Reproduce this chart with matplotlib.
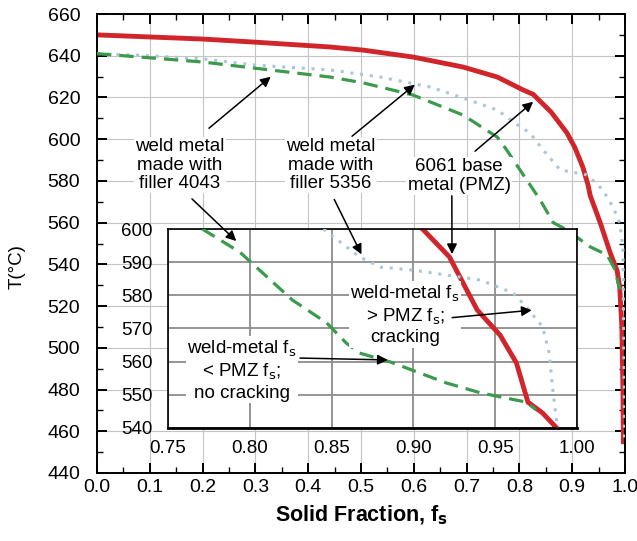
import matplotlib
matplotlib.use("Agg")
import matplotlib.pyplot as plt
import numpy as np

plt.rcParams['font.family'] = ['Liberation Sans', 'DejaVu Sans']

# main plot curves (solid fraction vs temperature)
pmz_fs = [0.0, 0.1, 0.2, 0.3, 0.441, 0.504, 0.598, 0.693, 0.758, 0.807, 0.826, 0.86,
          0.89, 0.905, 0.92, 0.93, 0.934, 0.953, 0.972, 0.985, 0.99, 0.994, 0.996, 0.997]
pmz_T = [650, 649, 648, 646.5, 644.2, 642.7, 639.4, 634.6, 629.8, 623.6, 621.5, 613,
         603, 596, 586.7, 578, 573, 560, 545.5, 537, 529, 510, 480, 455]

f4043_fs = [0.0, 0.1, 0.2, 0.3, 0.441, 0.504, 0.598, 0.693, 0.758, 0.776, 0.801, 0.839,
            0.864, 0.89, 0.934, 0.966, 0.98, 0.99]
f4043_T = [641, 639, 637, 634, 629.8, 627, 621.2, 611.6, 601, 594.8, 585.3, 571,
           560, 556.5, 548.4, 544.5, 538, 528]

f5356_fs = [0.0, 0.1, 0.2, 0.3, 0.441, 0.536, 0.631, 0.693, 0.758, 0.801, 0.82, 0.845,
            0.877, 0.928, 0.958, 0.977, 0.99, 0.996, 0.997, 0.998, 0.999]
f5356_T = [641, 640, 638.5, 635.5, 633.2, 629.8, 625, 619.8, 614, 606, 603, 594.8,
           585.3, 582.9, 575.7, 567.5, 560, 548, 520, 490, 456]

# inset curves
in_pmz_fs = [0.905, 0.922, 0.939, 0.953, 0.963, 0.970, 0.979, 0.987]
in_pmz_T = [600.3, 591.6, 575.6, 568, 559.6, 547.8, 544.5, 540.3]

in_4043_fs = [0.771, 0.794, 0.826, 0.847, 0.859, 0.867, 0.886, 0.92, 0.941, 0.969, 0.975]
in_4043_T = [600, 593, 578.6, 571.7, 565.6, 562.6, 559.9, 553.6, 550.6, 547.8, 545.5]

in_5356_fs = [0.845, 0.867, 0.88, 0.9, 0.941, 0.961, 0.969, 0.979, 0.983, 0.985, 0.988]
in_5356_T = [600, 591.6, 588.5, 587.6, 584.6, 580.7, 576.5, 570.5, 562.6, 552.4, 540]

red = '#d0262b'
green = '#3b9a4c'
blue = '#a9c6da'

fig = plt.figure(figsize=(6.37, 5.41), dpi=100)
ax = fig.add_axes([0.1523, 0.1257, 0.8289, 0.8484])

ax.plot(f5356_fs, f5356_T, color=blue, lw=2.2, dashes=(1, 2.2), zorder=3)
ax.plot(f4043_fs, f4043_T, color=green, lw=2.3, dashes=(4.5, 2.5), zorder=3)
ax.plot(pmz_fs, pmz_T, color=red, lw=3.5, zorder=2)

ax.set_xlim(0, 1.0)
ax.set_ylim(440, 660)
ax.set_xticks(np.arange(0, 1.01, 0.1))
ax.set_xticklabels(['%.1f' % v for v in np.arange(0, 1.01, 0.1)])
ax.set_xticks(np.arange(0, 1.01, 0.05), minor=True)
ax.set_yticks(np.arange(440, 661, 20))
ax.set_yticks(np.arange(440, 661, 10), minor=True)
ax.tick_params(which='both', direction='in', top=True, right=True, labelsize=14)
ax.tick_params(which='major', length=7, width=1.4)
ax.tick_params(which='minor', length=4, width=1.0)
ax.tick_params(axis='y', which='major', pad=12)
ax.tick_params(axis='x', which='major', pad=4)
ax.grid(True, which='major', color='#c4c4c4', lw=0.8)
for s in ax.spines.values():
    s.set_linewidth(1.4)

ax.set_xlabel('Solid Fraction, f$_\\mathbf{s}$', fontsize=15.5, fontweight='bold', labelpad=6)
ax.set_ylabel('T(°C)', fontsize=13.5)
ax.yaxis.set_label_coords(-0.135, 0.45)

box = dict(facecolor='white', edgecolor='none', pad=1)
arr = dict(arrowstyle='-|>', color='black', lw=1.1, mutation_scale=15)

ax.text(0.157, 587.6, 'weld metal\nmade with\nfiller 4043', ha='center', va='center',
        fontsize=13.5, linespacing=1.1, bbox=box, zorder=5)
ax.text(0.443, 587.6, 'weld metal\nmade with\nfiller 5356', ha='center', va='center',
        fontsize=13.5, linespacing=1.1, bbox=box, zorder=5)
ax.text(0.686, 582.4, '6061 base\nmetal (PMZ)', ha='center', va='center',
        fontsize=13.5, linespacing=1.1, bbox=box, zorder=5)

ax.annotate('', xy=(0.333, 630.8), xytext=(0.208, 604.4), arrowprops=arr)
ax.annotate('', xy=(0.606, 627), xytext=(0.479, 600.6), arrowprops=arr)
ax.annotate('', xy=(0.83, 618.8), xytext=(0.712, 593.4), arrowprops=arr)

# inset
ins = fig.add_axes([0.2637, 0.2089, 0.6421, 0.3678])
ins.set_facecolor('white')
ins.plot(in_5356_fs, in_5356_T, color=blue, lw=2.2, dashes=(1, 2.2), zorder=3)
ins.plot(in_4043_fs, in_4043_T, color=green, lw=2.3, dashes=(4.5, 2.5), zorder=3)
ins.plot(in_pmz_fs, in_pmz_T, color=red, lw=3.5, zorder=2)
ins.set_xlim(0.75, 1.0)
ins.set_ylim(540, 600)
ins.set_xticks(np.arange(0.75, 1.001, 0.05))
ins.set_xticklabels(['%.2f' % v for v in np.arange(0.75, 1.001, 0.05)])
ins.set_yticks(np.arange(540, 601, 10))
ins.tick_params(length=0, labelsize=13.5)
ins.tick_params(axis='y', pad=11)
ins.tick_params(axis='x', pad=9)
ins.grid(True, color='#8c8c8c', lw=1.3)
for s in ins.spines.values():
    s.set_linewidth(1.2)
ins.spines['bottom'].set_linewidth(2)

ins.text(0.895, 574.1, 'weld-metal f$_\\mathrm{s}$\n> PMZ f$_\\mathrm{s}$;\ncracking', ha='center',
         va='center', fontsize=13.5, linespacing=1.2, bbox=box, zorder=5)
ins.text(0.795, 557.5, 'weld-metal f$_\\mathrm{s}$\n< PMZ f$_\\mathrm{s}$;\nno cracking', ha='center',
         va='center', fontsize=13.5, linespacing=1.2, bbox=box, zorder=5)
ins.annotate('', xy=(0.974, 575.6), xytext=(0.922, 573.2), arrowprops=arr, zorder=6)
ins.annotate('', xy=(0.886, 560.5), xytext=(0.829, 561.1), arrowprops=arr, zorder=6)

# arrows from the main labels down into the inset
ins.annotate('', xy=(0.793, 595.8), xytext=(0.176, 572.3), textcoords=ax.transData,
             arrowprops=arr, annotation_clip=False, zorder=6)
ins.annotate('', xy=(0.869, 591.6), xytext=(0.447, 572.3), textcoords=ax.transData,
             arrowprops=arr, annotation_clip=False, zorder=6)
ins.annotate('', xy=(0.9236, 591.6), xytext=(0.672, 574.2), textcoords=ax.transData,
             arrowprops=arr, annotation_clip=False, zorder=6)

fig.savefig('out.png', dpi=100)
